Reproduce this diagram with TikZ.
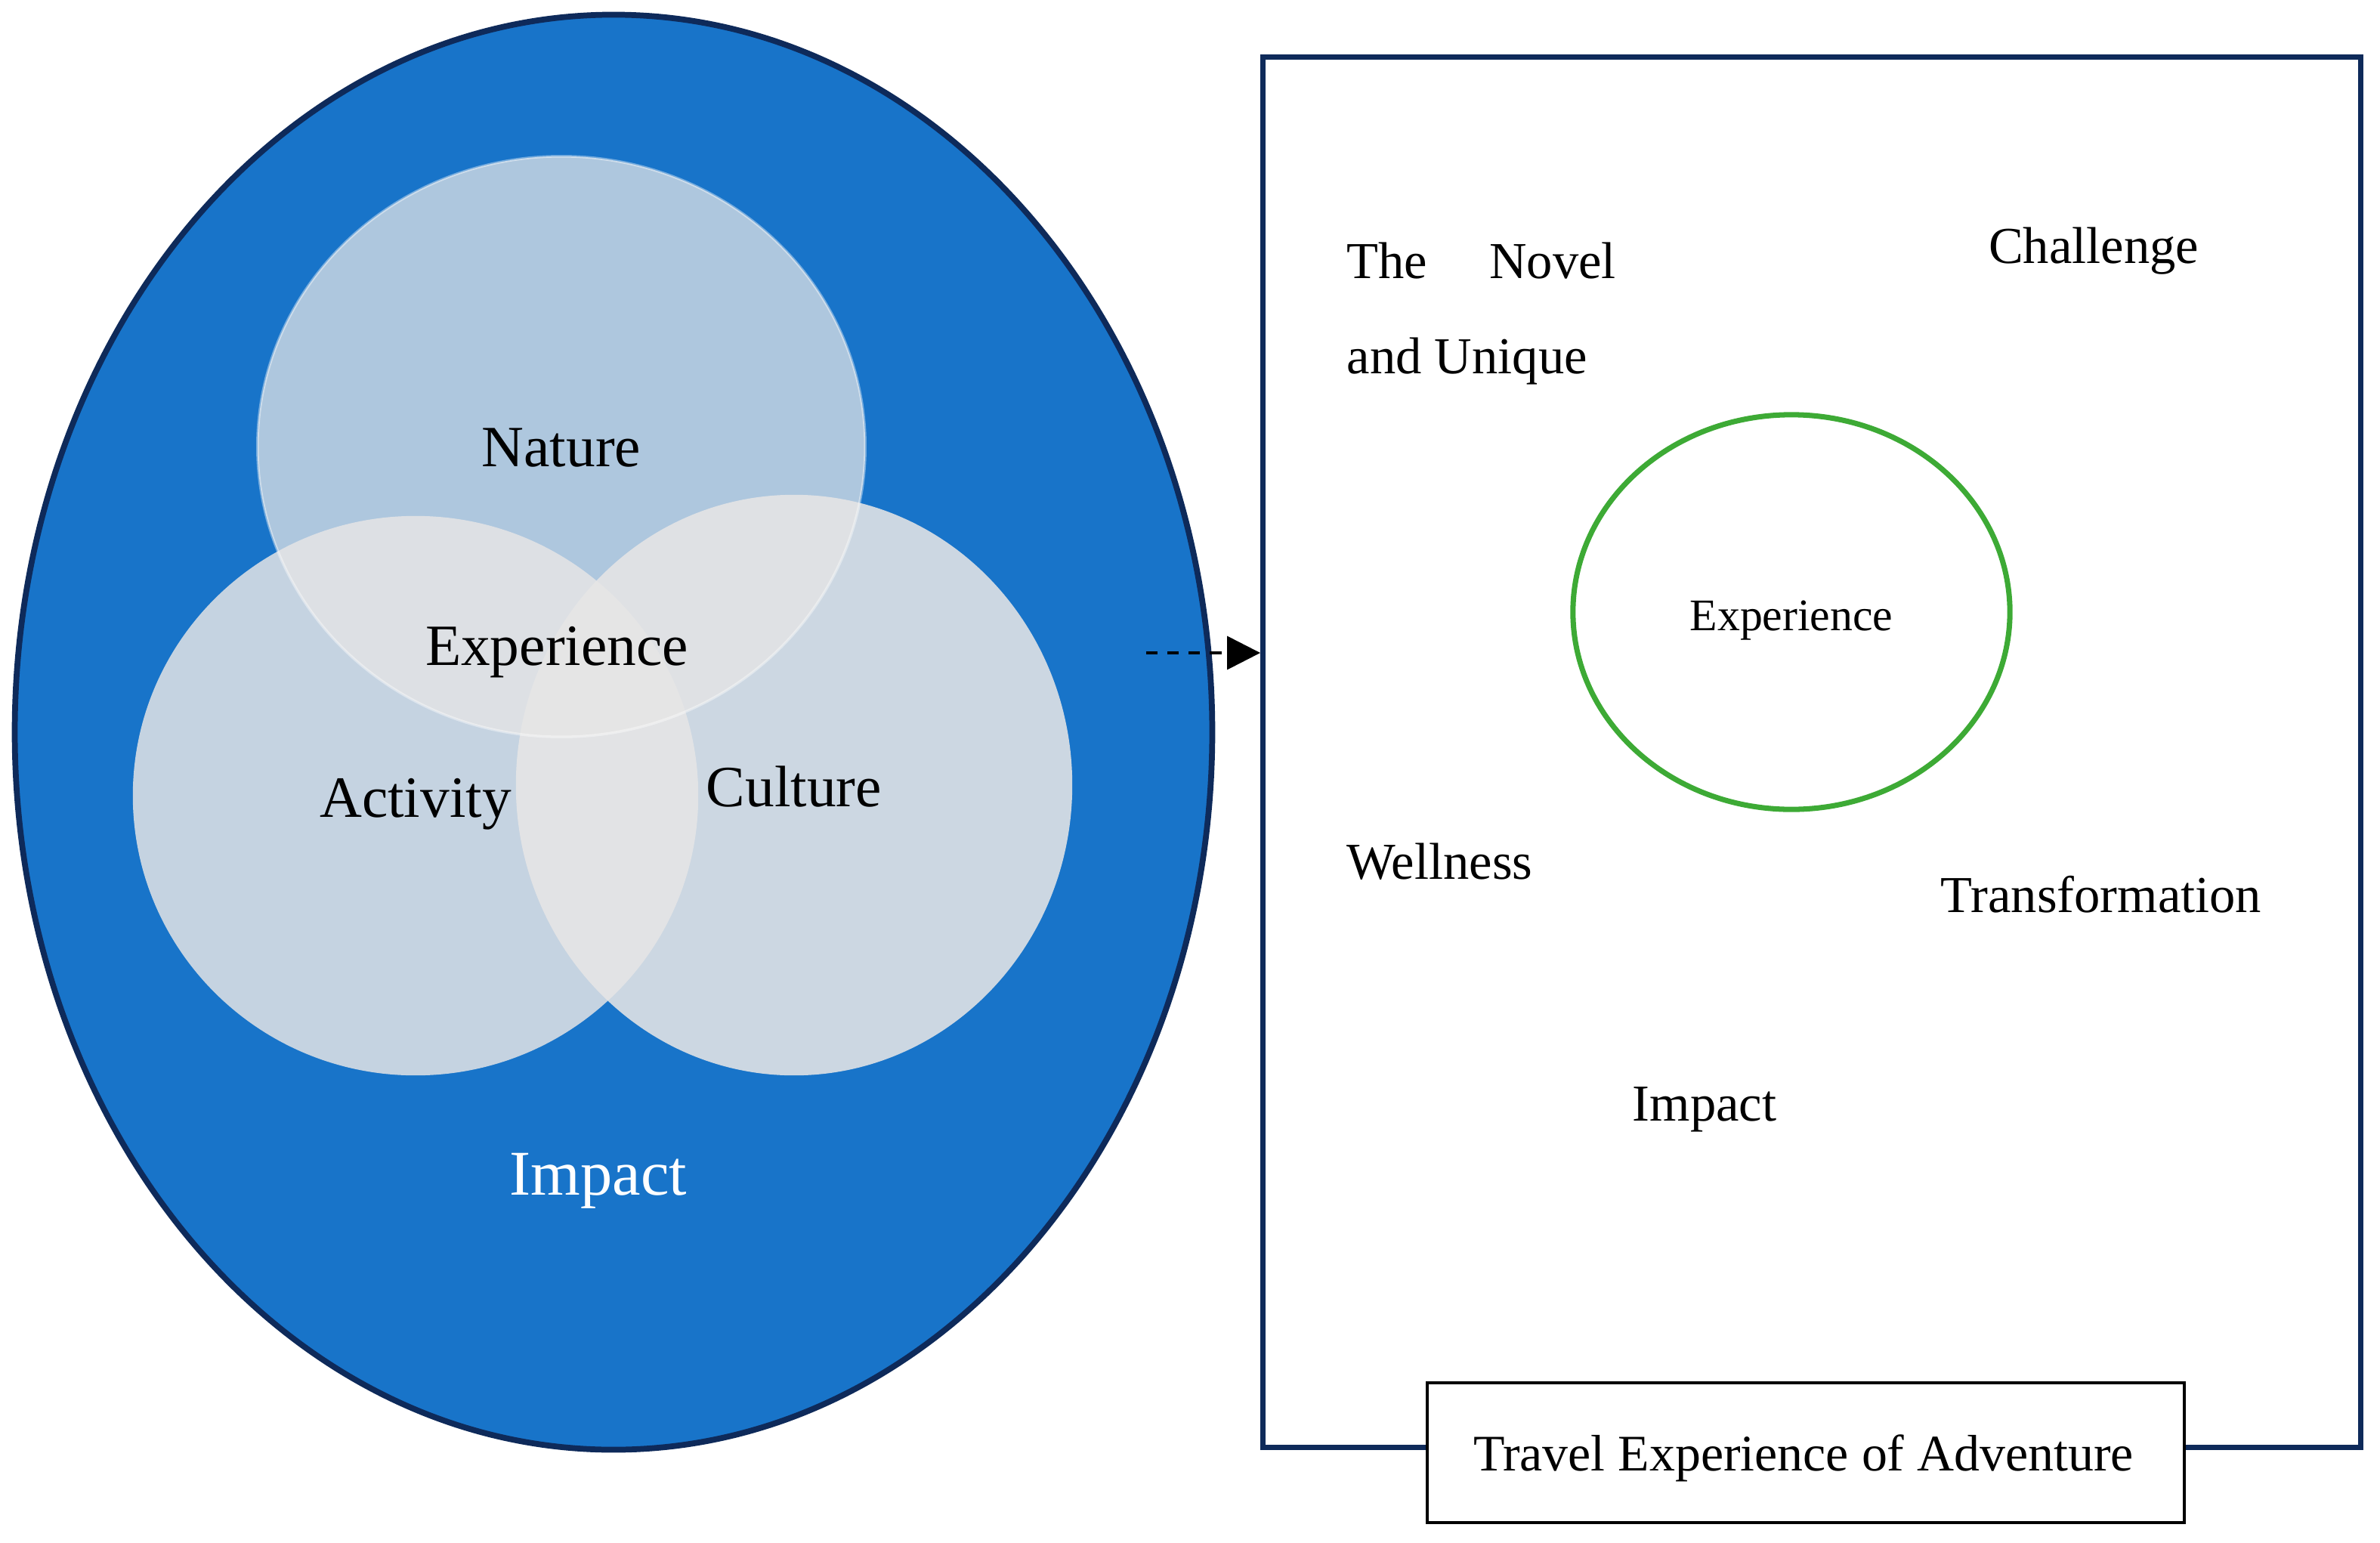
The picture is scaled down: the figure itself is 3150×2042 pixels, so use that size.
\documentclass[tikz,border=0pt]{standalone}
\usepackage{fontspec}
\setmainfont{Liberation Serif}
\usepackage{tikz}
\usetikzlibrary{shapes.geometric,arrows.meta,positioning}
\definecolor{bigblue}{RGB}{24,116,201}
\definecolor{navy}{RGB}{14,42,90}
\definecolor{softgray}{RGB}{231,230,230}
\definecolor{ringgreen}{RGB}{61,170,53}
\tikzstyle{blob}=[ellipse, fill=softgray, inner sep=0pt]
\tikzstyle{vennlbl}=[inner sep=0pt, anchor=base, font=\fontsize{22}{24}\selectfont]
\tikzstyle{lbl}=[inner sep=0pt, anchor=base, font=\fontsize{19.5}{22}\selectfont]
\def\ux{0.01cm}
\def\uy{-0.01cm}

\begin{document}
\begin{tikzpicture}[x=\ux,y=\uy]
		\useasboundingbox (0,0) rectangle (3150,2042);
		% left: the venn of experience
		\node[ellipse, draw=navy, line width=2.2pt, fill=bigblue, minimum width=15.84cm, minimum height=18.98cm] (impactball) at (812,969) {};
		\node[blob, fill opacity=0.84, minimum width=7.48cm, minimum height=7.40cm] (activityball) at (550,1053) {};
		\node[blob, fill opacity=0.87, minimum width=7.36cm, minimum height=7.68cm] (cultureball) at (1051,1039) {};
		\node[blob, fill opacity=0.73, draw=white, draw opacity=0.4, line width=1pt, minimum width=8.04cm, minimum height=7.68cm] (natureball) at (743,591) {};

		\node[vennlbl] (nature) at (743,617) {Nature};
		\node[vennlbl] (experience) at (737,880) {Experience};
		\node[vennlbl] (activity) at (550,1081) {Activity};
		\node[vennlbl] (culture) at (1051,1067) {Culture};
		\node[vennlbl, text=white, font=\fontsize{24}{26}\selectfont] (impact) at (792,1581) {Impact};

		% right: the adventure frame
		\node[draw=navy, line width=2pt, minimum width=14.52cm, minimum height=18.39cm] (advbox) at (2398,995.5) {};
		\node[ellipse, draw=ringgreen, line width=2pt, minimum width=5.78cm, minimum height=5.22cm] (ring) at (2371,810) {};
		\node[lbl, font=\fontsize{17}{20}\selectfont] (ringlbl) at (2371,834) {Experience};

		\node[inner sep=0pt, anchor=north west, text width=3.56cm, align=justify, font=\fontsize{19.5}{36}\selectfont] (novel) at (1782,320) {The Novel and Unique};
		\node[lbl] (challenge) at (2771,348) {Challenge};
		\node[lbl, anchor=base west] (wellness) at (1782,1163) {Wellness};
		\node[lbl] (transform) at (2781,1207) {Transformation};
		\node[lbl] (impactr) at (2256,1483) {Impact};

		\node[draw=black, fill=white, line width=1.2pt, minimum width=10.02cm, minimum height=1.85cm] (advtitle) at (2390,1922.5) {};
		\node[lbl, font=\fontsize{19.3}{22}\selectfont] (advtitlelbl) at (2387,1946) {Travel Experience of Adventure};

		\coordinate (dashstart) at (1517,864);
		\draw[line width=1pt, dash pattern=on 4.3pt off 3.7pt, -{Triangle[length=0.44cm, width=0.44cm]}] (dashstart) -- (dashstart -| advbox.west);
\end{tikzpicture}
\end{document}
